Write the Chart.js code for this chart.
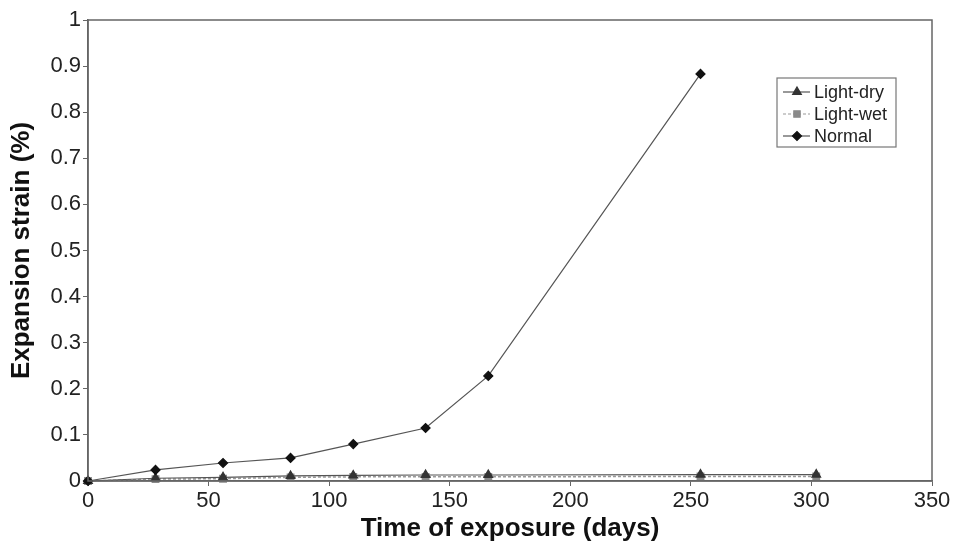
<!DOCTYPE html>
<html>
<head>
<meta charset="utf-8">
<script src="https://cdn.jsdelivr.net/npm/chart.js@4/dist/chart.umd.min.js"></script>
<style>
  html, body { margin: 0; padding: 0; background: #fff; }
  #wrap { width: 953px; height: 547px; }
</style>
</head>
<body>
<div id="wrap"><canvas id="myChart" width="953" height="547"></canvas></div>
<script>
// days of exposure
const days = [0, 28, 56, 84, 110, 140, 166, 254, 302];
// expansion strain (%)
const normal   = [0, 0.024, 0.039, 0.05, 0.08, 0.115, 0.228, 0.883];
const lightDry = [0, 0.006, 0.008, 0.011, 0.012, 0.013, 0.013, 0.014, 0.014];
const lightWet = [0, 0.004, 0.005, 0.008, 0.009, 0.009, 0.009, 0.010, 0.010];
const seriesNames = ['Light-dry', 'Light-wet', 'Normal'];
const xTicks = [0, 50, 100, 150, 200, 250, 300, 350];
const yTicks = ['0', '0.1', '0.2', '0.3', '0.4', '0.5', '0.6', '0.7', '0.8', '0.9', '1'];

function pts(vals) {
    return vals.map((v, i) => ({ x: days[i], y: v }));
}

const FONT = '"Liberation Sans", Arial, sans-serif';

// box around the plot + legend box at top right
const framePlugin = {
    id: 'frame',
    afterDraw(chart) {
        const c = chart.ctx;
        const a = chart.chartArea;
        c.save();
        c.strokeStyle = '#666';
        c.lineWidth = 1.5;
        c.strokeRect(a.left, a.top, a.right - a.left, a.bottom - a.top);

        // legend
        const lx = 777, ly = 78, lw = 119, lh = 69;
        c.fillStyle = '#fff';
        c.fillRect(lx, ly, lw, lh);
        c.lineWidth = 1.2;
        c.strokeStyle = '#777';
        c.strokeRect(lx, ly, lw, lh);
        const rows = [92, 114, 136];
        rows.forEach((y, di) => {
            const ds = chart.data.datasets[di];
            c.strokeStyle = ds.borderColor;
            c.lineWidth = 1.2;
            c.setLineDash(ds.borderDash || []);
            c.beginPath();
            c.moveTo(lx + 6, y);
            c.lineTo(lx + 33, y);
            c.stroke();
            c.setLineDash([]);
            c.fillStyle = ds.pointBackgroundColor;
            c.strokeStyle = ds.pointBorderColor;
            Chart.helpers.drawPoint(c, {
                pointStyle: ds.pointStyle,
                radius: ds.pointRadius,
                borderWidth: 1,
                rotation: 0
            }, lx + 20, y);
            c.fillStyle = '#222';
            c.font = '18px ' + FONT;
            c.textBaseline = 'middle';
            c.fillText(seriesNames[di], lx + 37, y + 1);
        });
        c.restore();
    }
};

let ctx = document.getElementById('myChart').getContext('2d');
let myChart = new Chart(ctx, {
    type: 'line',
    data: {
        datasets: [{
            label: seriesNames[0],
            data: pts(lightDry),
            borderColor: '#555',
            borderWidth: 1.2,
            pointStyle: 'triangle',
            pointRadius: 5,
            pointBackgroundColor: '#333',
            pointBorderColor: '#333',
            clip: false,
            order: 1
        }, {
            label: seriesNames[1],
            data: pts(lightWet),
            borderColor: '#999',
            borderWidth: 1.5,
            borderDash: [3, 2],
            pointStyle: 'rect',
            pointRadius: 4.5,
            pointBackgroundColor: '#8a8a8a',
            pointBorderColor: '#8a8a8a',
            clip: false,
            order: 2
        }, {
            label: seriesNames[2],
            data: pts(normal),
            borderColor: '#555',
            borderWidth: 1.2,
            pointStyle: 'rectRot',
            pointRadius: 4.5,
            pointBackgroundColor: '#111',
            pointBorderColor: '#111',
            clip: false,
            order: 0
        }]
    },
    options: {
        responsive: false,
        animation: false,
        layout: { padding: { left: 0, right: 21, top: 20, bottom: 0 } },
        plugins: {
            legend: { display: false },
            tooltip: { enabled: false }
        },
        scales: {
            x: {
                type: 'linear',
                min: 0,
                max: 350,
                afterBuildTicks: s => { s.ticks = xTicks.map(v => ({ value: v })); },
                afterFit: s => { s.height = 66; },
                grid: { drawOnChartArea: false, drawTicks: true, tickLength: 5, color: '#666' },
                border: { display: true, color: '#666', width: 1.5 },
                ticks: { color: '#222', font: { family: FONT, size: 22 }, padding: 2, maxRotation: 0 },
                title: {
                    display: true,
                    text: 'Time of exposure (days)',
                    color: '#111',
                    font: { family: FONT, size: 26, weight: 'bold' },
                    padding: { top: 0, bottom: 3 }
                }
            },
            y: {
                min: 0,
                max: 1,
                afterBuildTicks: s => { s.ticks = yTicks.map(v => ({ value: parseFloat(v) })); },
                afterFit: s => { s.width = 88; },
                grid: { drawOnChartArea: false, drawTicks: true, tickLength: 5, color: '#666' },
                border: { display: true, color: '#666', width: 1.5 },
                ticks: {
                    color: '#222',
                    font: { family: FONT, size: 22 },
                    padding: 2,
                    callback: (v, i) => yTicks[i]
                },
                title: {
                    display: true,
                    text: 'Expansion strain (%)',
                    color: '#111',
                    font: { family: FONT, size: 26, weight: 'bold' },
                    padding: { top: 6, bottom: 0 }
                }
            }
        }
    },
    plugins: [framePlugin]
});
</script>
</body>
</html>
